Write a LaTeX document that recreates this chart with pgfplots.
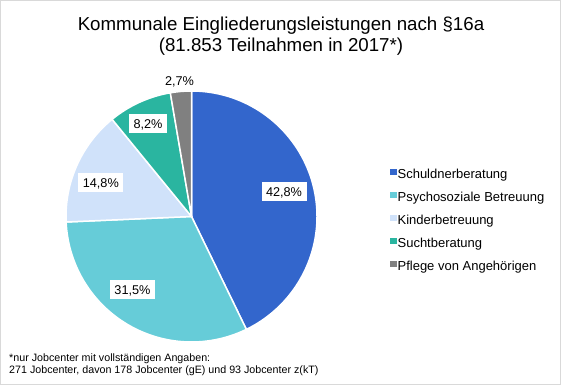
\documentclass[border=0pt]{standalone}
\usepackage{pgfplots}
\pgfplotsset{compat=1.18}
\usepackage{pgfplotstable}
\usepackage{etoolbox}
\usepackage{fontspec}
\setmainfont{Liberation Sans}

\definecolor{pie0}{RGB}{51,102,204}
\definecolor{pie1}{RGB}{102,204,216}
\definecolor{pie2}{RGB}{208,226,250}
\definecolor{pie3}{RGB}{42,181,160}
\definecolor{pie4}{RGB}{128,128,128}
\definecolor{frame}{RGB}{217,217,217}

\pgfplotstableread{
value
42.8
31.5
14.8
8.2
2.7
}\piedata

\def\pieslices{}
\def\angstart{90}
\pgfplotsforeachungrouped \i in {0,...,4}{%
  \pgfplotstablegetelem{\i}{value}\of\piedata
  \pgfmathsetmacro\angend{\angstart-3.6*\pgfplotsretval}%
  \eappto\pieslices{\noexpand\fill[pie\i, draw=white, line width=1.5pt] (axis cs:191.5,168.5) -- ++(\angstart:125.5pt) arc[start angle=\angstart, end angle=\angend, radius=125.5pt] -- cycle;}%
  \let\angstart\angend
}

\tikzset{dlabel/.style={fill=white, inner xsep=4.5pt, inner ysep=3.5pt, text height=11pt, text depth=1pt, font=\fontsize{12.7}{14}\selectfont}}

\begin{document}
\begin{tikzpicture}
\begin{axis}[
  scale only axis, width=561pt, height=385pt,
  xmin=0, xmax=561, ymin=0, ymax=385,
  hide axis, clip=false,
  legend style={at={(axis cs:390,216.5)}, anchor=north west, draw=none, fill=none, inner sep=0pt,
    row sep=10pt, font=\fontsize{13}{15}\selectfont,
    nodes={inner sep=0pt, inner xsep=1.5pt, text height=10pt, text depth=3pt}},
  legend cell align=left,
]
\pieslices
\addlegendimage{legend image code/.code={\fill[pie0] (0pt,0.5pt) rectangle (5.5pt,6pt);}}
\addlegendimage{legend image code/.code={\fill[pie1] (0pt,0.5pt) rectangle (5.5pt,6pt);}}
\addlegendimage{legend image code/.code={\fill[pie2] (0pt,0.5pt) rectangle (5.5pt,6pt);}}
\addlegendimage{legend image code/.code={\fill[pie3] (0pt,0.5pt) rectangle (5.5pt,6pt);}}
\addlegendimage{legend image code/.code={\fill[pie4] (0pt,0.5pt) rectangle (5.5pt,6pt);}}
\legend{Schuldnerberatung, Psychosoziale Betreuung, Kinderbetreuung, Suchtberatung, Pflege von Angehörigen}

\node[dlabel] at (axis cs:284,193.5) {42,8\%};
\node[dlabel] at (axis cs:132.5,95) {31,5\%};
\node[dlabel] at (axis cs:100.8,202.8) {14,8\%};
\node[dlabel] at (axis cs:148,261.5) {8,2\%};
\node[anchor=base, inner sep=0pt, font=\fontsize{12.7}{14}\selectfont] at (axis cs:179.5,299) {2,7\%};

\node[anchor=base, inner sep=0pt, font=\fontsize{18.7}{22}\selectfont] at (axis cs:281,354) {Kommunale Eingliederungsleistungen nach §16a};
\node[anchor=base, inner sep=0pt, font=\fontsize{18.7}{22}\selectfont] at (axis cs:281,333) {(81.853 Teilnahmen in 2017*)};

\node[anchor=base west, inner sep=0pt, font=\fontsize{10.7}{12}\selectfont] at (axis cs:9,23.7) {*nur Jobcenter mit vollständigen Angaben:};
\node[anchor=base west, inner sep=0pt, font=\fontsize{10.7}{12}\selectfont] at (axis cs:9,11.5) {271 Jobcenter, davon 178 Jobcenter (gE) und 93 Jobcenter z(kT)};

\draw[frame, line width=1pt] (axis cs:0.5,0.5) rectangle (axis cs:560.5,384.5);
\coordinate (BL) at (axis cs:0,0);
\coordinate (TR) at (axis cs:561,385);
\end{axis}
\pgfresetboundingbox
\path[use as bounding box] (BL) rectangle (TR);
\end{tikzpicture}
\end{document}
